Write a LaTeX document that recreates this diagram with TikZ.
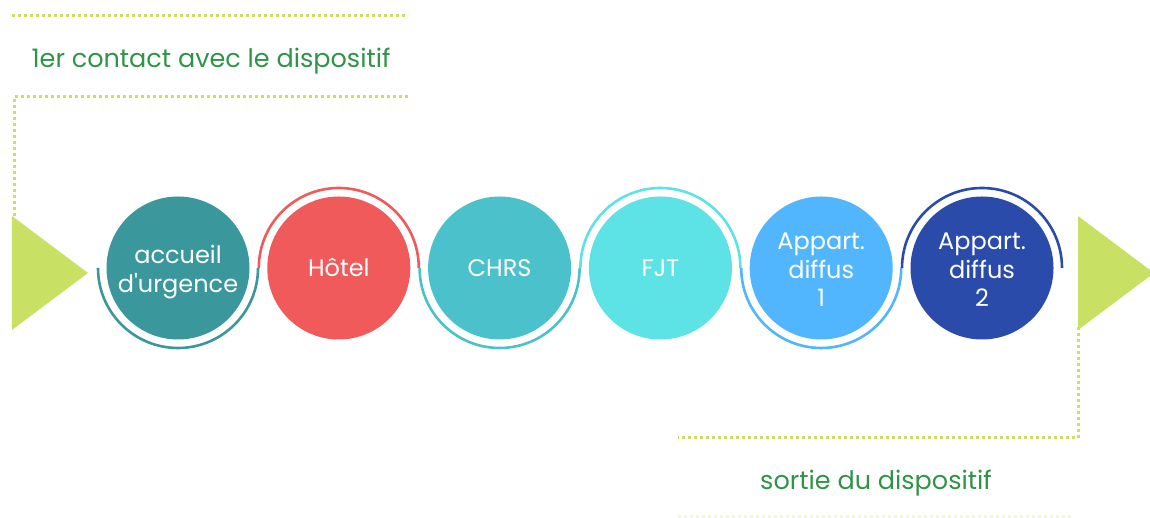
\documentclass[tikz,border=0pt]{standalone}
\usepackage{fontspec}
\setmainfont{Poppins}
\usepackage{xcolor}

\definecolor{lime}{HTML}{C8E064}
\definecolor{leaf}{HTML}{2F9447}
\definecolor{cAccueil}{HTML}{3A979B}
\definecolor{cHotel}{HTML}{F05A5A}
\definecolor{cChrs}{HTML}{4BC2CB}
\definecolor{cFjt}{HTML}{5DE2E6}
\definecolor{cAppA}{HTML}{52B6FF}
\definecolor{cAppB}{HTML}{2A4BAA}

\newcommand{\stagelines}[1]{\raisebox{0pt}[\dimexpr\height+9pt\relax][\depth]{\begin{tabular}{@{}c@{}}#1\end{tabular}}}

\begin{document}
\begin{tikzpicture}[x=1pt,y=1pt,
  dotline/.style={lime,line width=3pt,dash pattern=on 3pt off 3pt},
  stage/.style={circle,minimum size=143pt,inner sep=0pt,text=white,align=center,
    font=\fontsize{24}{28.5}\selectfont},
  ring/.style={line width=2.6pt},
  tag/.style={text=leaf,font=\fontsize{25.5}{30}\selectfont}]
\useasboundingbox (0,0) rectangle (1150,518);
% arrows in and out
\fill[lime] (12,302) -- (12,188) -- (88,245) -- cycle;
\fill[lime] (1078,302) -- (1078,188) -- (1154,245) -- cycle;
% dotted frames
\coordinate (tl) at (12,502); \coordinate (tr) at (408,502);
\coordinate (ml) at (14,421); \coordinate (mr) at (408,421);
\coordinate (bc) at (1078,80); \coordinate (bl) at (678,80);
\draw[dotline] (tl) -- (tr);
\draw[dotline] (mr) -- (ml) -- (14,302);
\draw[dotline] (1078,191) -- (bc) -- (bl);
\draw[dotline,opacity=.25] (678,1) -- (1072,1);
\node[tag] (entree) at (211,457) {1er contact avec le dispositif};
\node[tag] (sortie) at (876,35) {sortie du dispositif};
% stages
\node[stage,fill=cAccueil] (accueil) at (178,250) {\stagelines{accueil\\d\textquotesingle urgence}};
\node[stage,fill=cHotel] (hotel) at (338.8,250) {Hôtel};
\node[stage,fill=cChrs] (chrs) at (499.6,250) {CHRS};
\node[stage,fill=cFjt] (fjt) at (660.4,250) {FJT};
\node[stage,fill=cAppA] (appa) at (821.2,250) {\stagelines{Appart.\\diffus\\1}};
\node[stage,fill=cAppB] (appb) at (982,250) {\stagelines{Appart.\\diffus\\2}};
% rings
\draw[ring,cAccueil] ([xshift=-80pt]accueil.center) arc (180:360:80pt);
\draw[ring,cHotel] ([xshift=-80pt]hotel.center) arc (180:0:80pt);
\draw[ring,cChrs] ([xshift=-80pt]chrs.center) arc (180:360:80pt);
\draw[ring,cFjt] ([xshift=-80pt]fjt.center) arc (180:0:80pt);
\draw[ring,cAppA] ([xshift=-80pt]appa.center) arc (180:360:80pt);
\draw[ring,cAppB] ([xshift=-80pt]appb.center) arc (180:0:80pt);
\end{tikzpicture}
\end{document}
